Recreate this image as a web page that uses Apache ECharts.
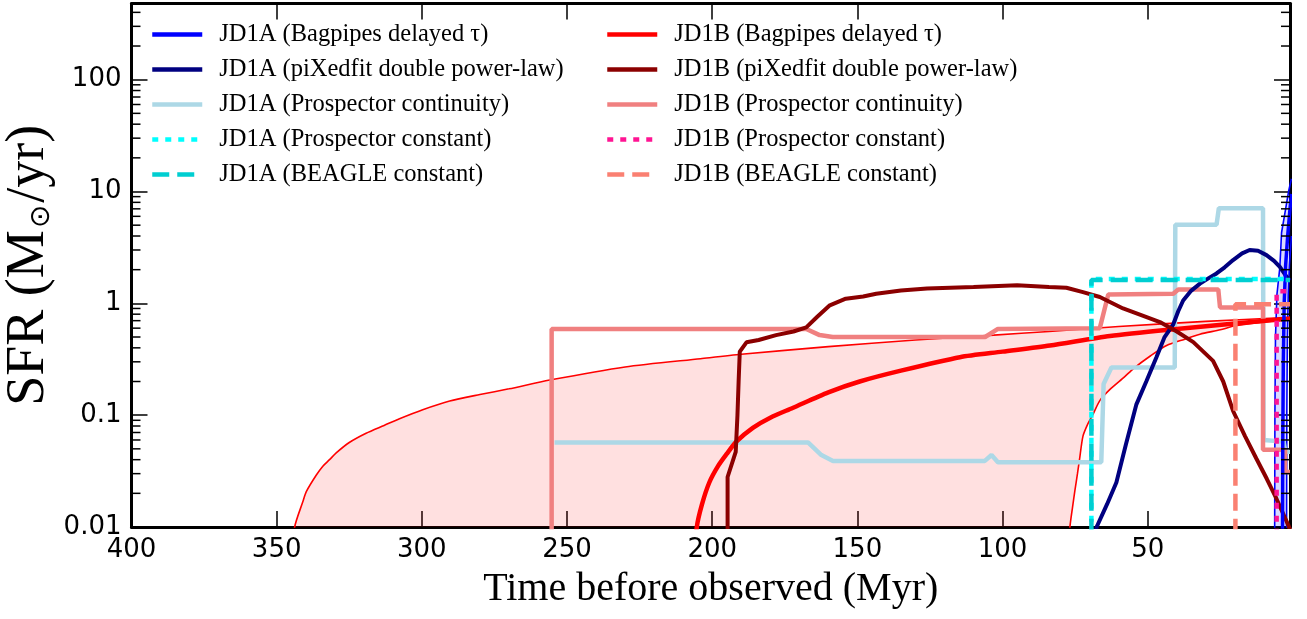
<!DOCTYPE html>
<html>
<head>
<meta charset="utf-8">
<script src="https://cdn.jsdelivr.net/npm/echarts@6/dist/echarts.min.js"></script>
<style>
html, body { margin: 0; padding: 0; background: #fff; }
#chart { width: 1307px; height: 619px; }
</style>
</head>
<body>
<div id="chart"></div>
<script>
// points are [Myr before observed, SFR in Msun/yr]
var jd1aBagMed = [[3.6,0.005],[3.5,0.05],[3.3,0.3],[3.0,1.0],[2.5,2.2],[1.8,4.0],[1.0,7.0],[0.5,9.5]];
var jd1aBagHi = [[6.3,0.005],[6.2,0.1],[6.0,0.5],[5.5,1.2],[4.5,2.1],[3.9,4.3],[2.5,7.0],[1.5,10],[0.5,13]];
var jd1aBagLo = [[2.2,0.005],[2.1,0.1],[1.9,0.5],[1.6,1.2],[1.2,2.2],[0.5,4]];
var jd1aPix = [[68.5,0.007],[67.6,0.01],[64,0.016],[60.8,0.025],[57.5,0.055],[53.9,0.125],[50.5,0.2],[47,0.33],
    [44.2,0.5],[41.2,0.65],[39.5,0.85],[37.8,1.06],[35,1.3],[32,1.5],[29,1.68],[26.3,1.85],[23.5,2.1],[20.6,2.44],
    [17.5,2.8],[14.9,3.0],[12,2.95],[9.1,2.7],[6.5,2.4],[4.5,2.12],[2.2,1.73],[1,1.6]];
var jd1aCont = [[254.3,0.057],[167,0.057],[162.4,0.044],[158.4,0.039],[106.1,0.039],[103.8,0.044],[101.6,0.038],
    [66,0.038],[65.2,0.19],[62.5,0.267],[40.7,0.267],[40.5,5.05],[26.3,5.05],[25.5,7.1],[10.3,7.1],[10.1,0.06],
    [3.2,0.058],[2.6,0.047],[1,0.047]];
var jd1aConst = [[69.4,0.005],[69.4,1.65],[1,1.65]];
var jd1aBeagle = [[69.4,0.005],[69.4,1.62],[1,1.62]];

var jd1bBagMed = [[206,0.005],[205.3,0.01],[203.5,0.016],[201,0.025],[198,0.035],[195,0.045],[191.7,0.058],[186,0.077],
    [180,0.095],[172.3,0.116],[160,0.16],[149.2,0.20],[135,0.25],[114.7,0.33],[100,0.37],[83.7,0.42],[63,0.51],
    [40,0.59],[20,0.66],[1,0.73]];
var jd1bBagHi = [[344.5,0.005],[343.8,0.01],[341,0.0168],[339.8,0.0207],[336.4,0.029],[334.1,0.035],[331.8,0.04],
    [329.5,0.046],[325,0.057],[319.2,0.069],[313,0.081],[307.7,0.093],[299.7,0.112],[290.4,0.134],[280,0.153],
    [270,0.172],[256,0.206],[230,0.27],[204,0.32],[190,0.35],[160,0.41],[130,0.47],[103,0.52],
    [84,0.56],[60,0.62],[30,0.69],[1,0.75]];
var jd1bBagLo = [[77.5,0.005],[76.8,0.01],[75.9,0.015],[75.1,0.021],[74.2,0.03],[73.5,0.04],[72.3,0.065],[70.5,0.085],
    [69,0.1],[66.5,0.135],[63,0.17],[58,0.22],[55,0.26],[49,0.34],[43.5,0.42],[37,0.48],[32,0.53],[25,0.58],
    [19.9,0.63],[10,0.68],[1,0.72]];
var jd1bPix = [[194.7,0.005],[194.7,0.028],[191.9,0.047],[191.3,0.1],[190.9,0.2],[190.5,0.37],[188.2,0.448],[184,0.47],
    [178,0.52],[172,0.56],[167.6,0.61],[164,0.75],[159.5,0.96],[154,1.10],[148,1.15],[143.5,1.22],[135,1.30],
    [126,1.36],[110,1.40],[95,1.45],[84,1.40],[78,1.38],[72.3,1.26],[66.5,1.14],[58.5,0.90],[52,0.78],[45.8,0.68],
    [40,0.56],[34.3,0.45],[27.5,0.306],[24,0.2],[20.6,0.109],[16.5,0.065],[12.6,0.041],[9,0.027],[5.7,0.018],
    [1.6,0.0104],[1,0.0095]];
var jd1bCont = [[255.3,0.005],[255.3,0.59],[167.6,0.59],[163,0.52],[158.5,0.50],[106,0.50],[101.6,0.59],[66.5,0.6],
    [63.6,1.2],[41.2,1.22],[39.5,1.33],[25.7,1.33],[25.1,0.92],[10.3,0.92],[10.3,0.049],[2.7,0.049],[2.7,0.031],[1,0.031]];
var jd1bConst = [[5.6,0.005],[5.6,1.28],[1,1.28]];
var jd1bBeagle = [[19.8,0.005],[19.8,0.98],[1,0.98]];

var namesA = ['JD1A (Bagpipes delayed τ)', 'JD1A (piXedfit double power-law)', 'JD1A (Prospector continuity)',
    'JD1A (Prospector constant)', 'JD1A (BEAGLE constant)'];
var namesB = ['JD1B (Bagpipes delayed τ)', 'JD1B (piXedfit double power-law)', 'JD1B (Prospector continuity)',
    'JD1B (Prospector constant)', 'JD1B (BEAGLE constant)'];

var xTicks = [400, 350, 300, 250, 200, 150, 100, 50];
var yTicks = [0.01, 0.1, 1, 10, 100];
var yTickLabels = ['0.01', '0.1', '1', '10', '100'];
var minorMults = [2, 3, 4, 5, 6, 7, 8, 9];

var chart = echarts.init(document.getElementById('chart'));

var DOTTED = [6, 7];
var DASHED = [17, 8];

function lineSeries(name, data, color, width, type, z, smooth) {
    return {
        name: name, type: 'line', data: data, symbol: 'none', clip: true, z: z || 3,
        smooth: smooth || false,
        lineStyle: { color: color, width: width, type: type || 'solid', cap: 'butt' },
        itemStyle: { color: color },
        emphasis: { disabled: true },
        silent: true
    };
}

function bandSeries(hi, lo, fill) {
    var poly = hi.concat(lo.slice().reverse());
    return {
        type: 'custom', clip: true, silent: true, z: 1,
        data: [[100, 1]],
        renderItem: function(params, api) {
            var pts = poly.map(function(p) { return api.coord(p); });
            return { type: 'polygon', shape: { points: pts }, style: { fill: fill } };
        }
    };
}

function minorTickSeries() {
    var vals = [];
    for (var i = 0; i < yTicks.length; i++) {
        for (var j = 0; j < minorMults.length; j++) {
            var v = yTicks[i] * minorMults[j];
            if (v < 480) vals.push([200, v]);
        }
    }
    return {
        type: 'custom', silent: true, z: 10, data: vals,
        renderItem: function(params, api) {
            var y = api.coord([200, api.value(1)])[1];
            var cs = params.coordSys;
            var st = { stroke: '#000', lineWidth: 1.5 };
            return { type: 'group', children: [
                { type: 'line', shape: { x1: cs.x, y1: y, x2: cs.x + 9, y2: y }, style: st },
                { type: 'line', shape: { x1: cs.x + cs.width, y1: y, x2: cs.x + cs.width - 9, y2: y }, style: st }
            ] };
        }
    };
}

function yLabel(v) {
    for (var i = 0; i < yTicks.length; i++) {
        if (Math.abs(Math.log10(v) - Math.log10(yTicks[i])) < 0.01) return yTickLabels[i];
    }
    return '';
}

function xLabel(v) {
    for (var i = 0; i < xTicks.length; i++) {
        if (Math.abs(v - xTicks[i]) < 0.01) return String(xTicks[i]);
    }
    return '';
}

var axisLine = { lineStyle: { color: '#000', width: 3 } };
var tickStyle = { inside: true, length: 16, lineStyle: { color: '#000', width: 1.5 } };
var labelFont = { fontFamily: 'DejaVu Sans', fontSize: 26, color: '#000' };
var legendText = { fontFamily: 'Liberation Serif', fontSize: 24.5, color: '#000', padding: [0, 0, 0, 12] };

function legendCol(names, left) {
    return { data: names, orient: 'vertical', left: left, top: 22, padding: 0, itemWidth: 50, itemHeight: 20,
        itemGap: 10, selectedMode: false, textStyle: legendText, itemStyle: { opacity: 0 },
        lineStyle: { width: 4.5 } };
}

var option = {
    animation: false,
    backgroundColor: '#fff',
    grid: { left: 131.5, right: 17, top: 3.5, bottom: 92, containLabel: false, outerBoundsMode: 'none' },
    legend: [legendCol(namesA, 150), legendCol(namesB, 605)],
    xAxis: [
        { type: 'value', inverse: true, min: 1, max: 400, splitNumber: 8, position: 'bottom',
          axisLine: axisLine, axisTick: tickStyle, splitLine: { show: false },
          axisLabel: Object.assign({ margin: 10, formatter: xLabel }, labelFont),
          name: 'Time before observed (Myr)', nameLocation: 'middle', nameGap: 42,
          nameTextStyle: { fontFamily: 'Liberation Serif', fontSize: 40, color: '#000' } },
        { type: 'value', inverse: true, min: 1, max: 400, splitNumber: 8, position: 'top',
          axisLine: axisLine, axisTick: tickStyle, splitLine: { show: false }, axisLabel: { show: false } }
    ],
    yAxis: [
        { type: 'log', logBase: 10, min: 0.01, max: 480, position: 'left',
          axisLine: axisLine, axisTick: tickStyle, splitLine: { show: false },
          axisLabel: Object.assign({ margin: 10, formatter: yLabel }, labelFont),
          name: 'SFR (M{sub|⊙}/yr)', nameLocation: 'middle', nameGap: 76, nameMoveOverlap: false,
          nameTextStyle: { fontFamily: 'Liberation Serif', fontSize: 54, color: '#000',
              rich: { sub: { fontFamily: 'DejaVu Sans', fontSize: 28, verticalAlign: 'bottom', padding: [24, 2, 0, 2] } } } },
        { type: 'log', logBase: 10, min: 0.01, max: 480, position: 'right',
          axisLine: axisLine, axisTick: tickStyle, splitLine: { show: false }, axisLabel: { show: false } }
    ],
    series: [
        bandSeries(jd1bBagHi, jd1bBagLo, 'rgba(255,0,0,0.12)'),
        bandSeries(jd1aBagHi, jd1aBagLo, 'rgba(0,0,255,0.15)'),
        lineSeries('', jd1bBagHi, '#ff0000', 1.6, 'solid', 2, 0.25),
        lineSeries('', jd1bBagLo, '#ff0000', 1.6, 'solid', 2, 0.25),
        lineSeries('', jd1aBagHi, '#0000ff', 1.6, 'solid', 2),
        lineSeries('', jd1aBagLo, '#0000ff', 1.6, 'solid', 2),
        lineSeries(namesA[2], jd1aCont, '#add8e6', 4.5),
        lineSeries(namesB[2], jd1bCont, '#f08080', 4.5),
        lineSeries(namesB[0], jd1bBagMed, '#ff0000', 4.5, 'solid', 3, 0.25),
        lineSeries(namesA[1], jd1aPix, '#000080', 4),
        lineSeries(namesB[1], jd1bPix, '#8b0000', 4),
        lineSeries(namesA[0], jd1aBagMed, '#0000ff', 3.5),
        lineSeries(namesA[3], jd1aConst, '#00ffff', 4.5, DOTTED),
        lineSeries(namesA[4], jd1aBeagle, '#00ced1', 4.5, DASHED),
        lineSeries(namesB[3], jd1bConst, '#ff1493', 4.5, DOTTED),
        lineSeries(namesB[4], jd1bBeagle, '#fa8072', 4.5, DASHED),
        minorTickSeries()
    ]
};

chart.setOption(option);
</script>
</body>
</html>
